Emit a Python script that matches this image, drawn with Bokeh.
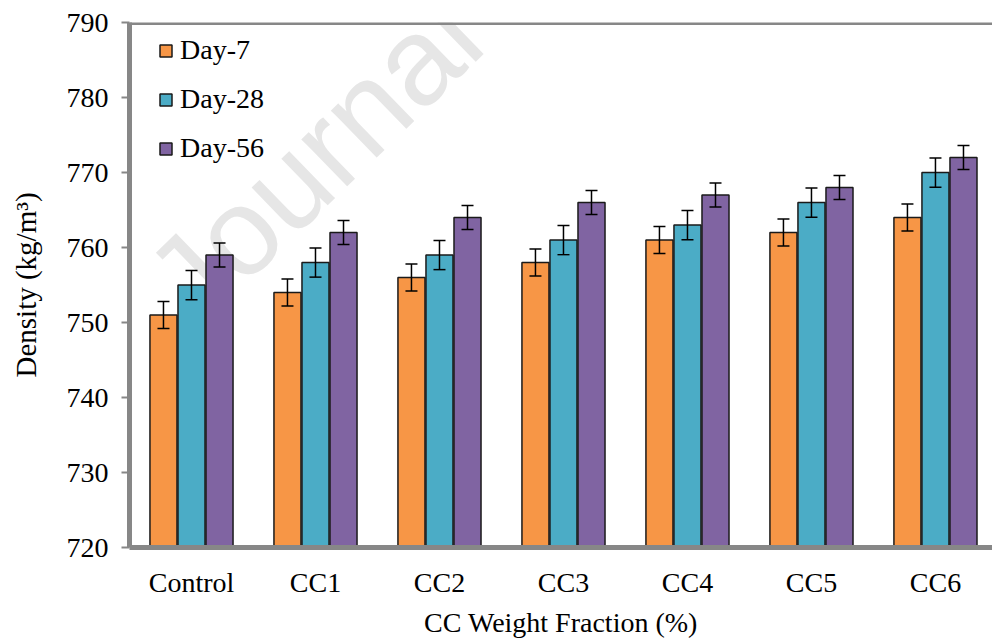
from bokeh.plotting import figure
from bokeh.models import (ColumnDataSource, Range1d, FixedTicker, Whisker, TeeHead,
                          Span, Label, Legend, LegendItem)
from bokeh.transform import dodge
from bokeh.embed import file_html
from bokeh.resources import INLINE

categories = ["Control", "CC1", "CC2", "CC3", "CC4", "CC5", "CC6"]
day7 = [751, 754, 756, 758, 761, 762, 764]
day28 = [755, 758, 759, 761, 763, 766, 770]
day56 = [759, 762, 764, 766, 767, 768, 772]
err7 = [1.8, 1.8, 1.8, 1.8, 1.8, 1.8, 1.8]
err28 = [1.95, 1.95, 1.95, 1.95, 1.95, 1.95, 1.95]
err56 = [1.6, 1.6, 1.6, 1.6, 1.6, 1.6, 1.6]
y_ticks = [720, 730, 740, 750, 760, 770, 780, 790]
series_names = ["Day-7", "Day-28", "Day-56"]
colors = ["#F79646", "#4BACC6", "#8064A2"]
x_title = "CC Weight Fraction (%)"
y_title = "Density (kg/m³)"

xs = list(range(len(categories)))
src = ColumnDataSource(dict(
    x=xs, d7=day7, d28=day28, d56=day56,
    d7_lo=[v - e for v, e in zip(day7, err7)], d7_hi=[v + e for v, e in zip(day7, err7)],
    d28_lo=[v - e for v, e in zip(day28, err28)], d28_hi=[v + e for v, e in zip(day28, err28)],
    d56_lo=[v - e for v, e in zip(day56, err56)], d56_hi=[v + e for v, e in zip(day56, err56)],
))

FONT = "Liberation Serif"
GRAY = "#878787"

p = figure(width=992, height=640, output_backend="svg", toolbar_location=None,
           x_range=Range1d(-0.5, 6.46), y_range=Range1d(720, 790),
           min_border_left=129, min_border_right=0, min_border_top=22, min_border_bottom=93)
p.background_fill_color = "white"
p.border_fill_color = "white"
p.outline_line_color = None
p.grid.visible = False

# watermark
wm = Label(x=38, y=247, x_units="screen", y_units="screen", text="Journal",
           angle=0.77, text_font="Liberation Sans", text_font_size="124px",
           text_color="#e6e6e6", text_baseline="alphabetic", level="underlay")
p.add_layout(wm)

offsets = [-0.226, 0.0, 0.226]
fields = ["d7", "d28", "d56"]
renderers = []
for f, off, c in zip(fields, offsets, colors):
    r = p.vbar(x=dodge("x", off), top=f, bottom=720, width=0.218, source=src,
               fill_color=c, line_color="#1a1a1a", line_width=1.5)
    renderers.append(r)
    w = Whisker(base=dodge("x", off), upper=f + "_hi", lower=f + "_lo", source=src,
                line_color="black", line_width=1.5, level="overlay",
                upper_head=TeeHead(size=12, line_color="black", line_width=1.5),
                lower_head=TeeHead(size=12, line_color="black", line_width=1.5))
    p.add_layout(w)

p.add_layout(Span(location=790, dimension="width", line_color=GRAY, line_width=5))

# axes
p.xaxis.ticker = FixedTicker(ticks=xs)
p.xaxis.major_label_overrides = {i: c for i, c in zip(xs, categories)}
p.xaxis.major_tick_line_color = None
p.xaxis.minor_tick_line_color = None
p.xaxis.major_tick_out = 0
p.xaxis.major_tick_in = 0
p.xaxis.major_label_standoff = 19
p.xaxis.axis_label = x_title
p.yaxis.ticker = FixedTicker(ticks=y_ticks)
p.yaxis.minor_tick_line_color = None
p.yaxis.major_tick_in = 0
p.yaxis.major_tick_out = 8
p.yaxis.major_tick_line_color = GRAY
p.yaxis.major_tick_line_width = 2
p.yaxis.major_label_standoff = 13
p.yaxis.axis_label = y_title
for ax in (p.xaxis, p.yaxis):
    ax.axis_line_color = GRAY
    ax.axis_line_width = 5
    ax.major_label_text_font = FONT
    ax.major_label_text_font_size = "28px"
    ax.major_label_text_color = "black"
    ax.axis_label_text_font = FONT
    ax.axis_label_text_font_size = "28px"
    ax.axis_label_text_font_style = "normal"
    ax.axis_label_text_color = "black"
p.xaxis.axis_label_standoff = 6
p.yaxis.axis_label_standoff = 22
p.yaxis.axis_label_text_font_size = "29px"

legend = Legend(items=[LegendItem(label=n, renderers=[r]) for n, r in zip(series_names, renderers)],
                location=(29, 383), orientation="vertical")
legend.background_fill_alpha = 0
legend.border_line_color = None
legend.padding = 0
legend.margin = 0
legend.spacing = 17
legend.glyph_width = 15
legend.glyph_height = 15
legend.label_height = 30
legend.label_standoff = 7
legend.label_text_font = FONT
legend.label_text_font_size = "28px"
legend.label_text_color = "black"
p.add_layout(legend, "center")

open("out.html", "w").write(file_html(p, INLINE))
